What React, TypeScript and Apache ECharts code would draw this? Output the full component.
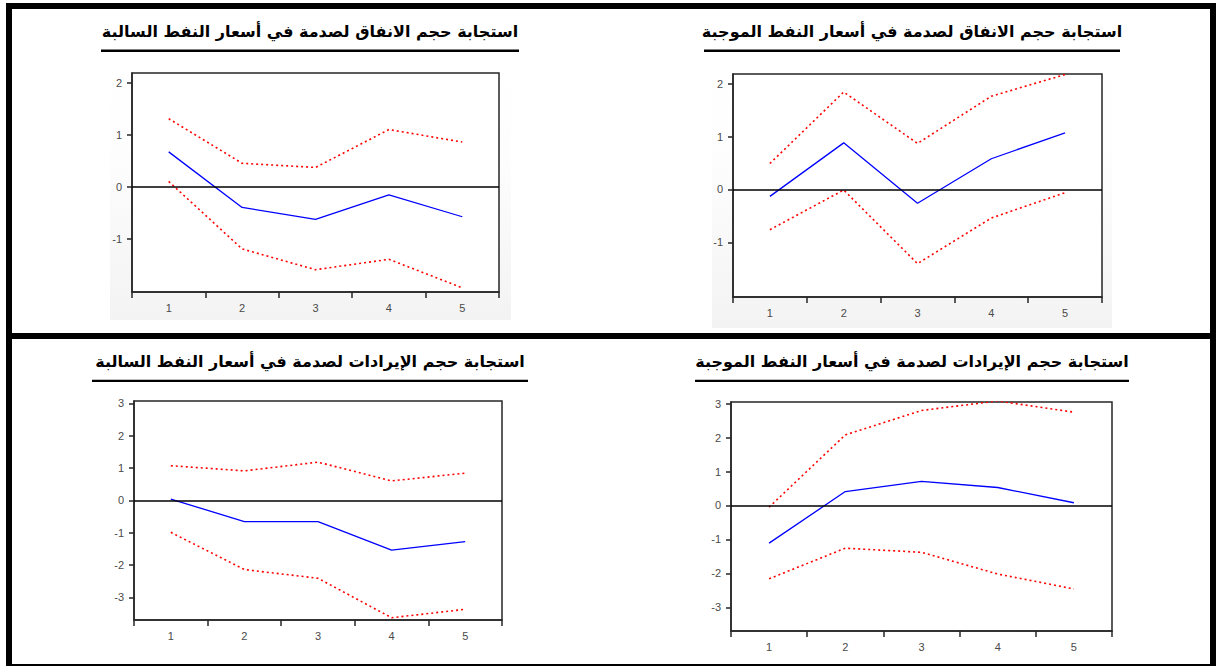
import React, { useEffect, useRef } from 'react';
import * as echarts from 'echarts';

// ---- data ----
const periods = ['1', '2', '3', '4', '5'];

const expNegResp = [0.67, -0.4, -0.63, -0.16, -0.58];
const expNegUpper = [1.31, 0.45, 0.37, 1.1, 0.86];
const expNegLower = [0.1, -1.2, -1.6, -1.4, -1.95];

const expPosResp = [-0.13, 0.88, -0.26, 0.58, 1.07];
const expPosUpper = [0.49, 1.84, 0.87, 1.76, 2.17];
const expPosLower = [-0.76, -0.01, -1.4, -0.54, -0.06];

const revNegResp = [0.04, -0.66, -0.66, -1.54, -1.28];
const revNegUpper = [1.07, 0.91, 1.18, 0.6, 0.84];
const revNegLower = [-0.99, -2.14, -2.41, -3.63, -3.37];

const revPosResp = [-1.11, 0.41, 0.71, 0.53, 0.08];
const revPosUpper = [-0.05, 2.08, 2.8, 3.08, 2.75];
const revPosLower = [-2.16, -1.26, -1.38, -2.02, -2.46];

const ticksExp = [-1, 0, 1, 2];
const ticksRev = [-3, -2, -1, 0, 1, 2, 3];

const titleExpNeg = 'استجابة حجم الانفاق لصدمة في أسعار النفط السالبة';
const titleExpPos = 'استجابة حجم الانفاق لصدمة في أسعار النفط الموجبة';
const titleRevNeg = 'استجابة حجم الإيرادات لصدمة في أسعار النفط السالبة';
const titleRevPos = 'استجابة حجم الإيرادات لصدمة في أسعار النفط الموجبة';

// ---- layout ----
const panels = [
  { grid: { left: 132, top: 73, width: 367, height: 219 }, min: -2.03, max: 2.19, ticks: ticksExp,
    resp: expNegResp, upper: expNegUpper, lower: expNegLower,
    title: titleExpNeg, tx: 310, ty: 31, ul: [101, 519, 49.5], bg: [110, 60, 401, 260] },
  { grid: { left: 733, top: 74, width: 369, height: 223 }, min: -2.03, max: 2.18, ticks: ticksExp,
    resp: expPosResp, upper: expPosUpper, lower: expPosLower,
    title: titleExpPos, tx: 912, ty: 31, ul: [704, 1120, 49.5], bg: [712, 60, 400, 268] },
  { grid: { left: 134, top: 401, width: 368, height: 219 }, min: -3.7, max: 3.07, ticks: ticksRev,
    resp: revNegResp, upper: revNegUpper, lower: revNegLower,
    title: titleRevNeg, tx: 310, ty: 361, ul: [92, 528, 379.7], bg: null },
  { grid: { left: 731, top: 402, width: 381, height: 229 }, min: -3.7, max: 3.05, ticks: ticksRev,
    resp: revPosResp, upper: revPosUpper, lower: revPosLower,
    title: titleRevPos, tx: 912, ty: 361, ul: [695, 1129, 379.7], bg: null },
];

const AXIS_COLOR = '#262626';
const LABEL_COLOR = '#4a4a4a';

export default function App() {
  const ref = useRef<HTMLDivElement>(null);

  useEffect(() => {
    if (!ref.current) return;
    const chart = echarts.init(ref.current, undefined, { renderer: 'svg' });

    const grids: any[] = [];
    const xAxes: any[] = [];
    const yAxes: any[] = [];
    const series: any[] = [];
    const graphics: any[] = [];

    panels.forEach((p, i) => {
      grids.push({
        ...p.grid,
        show: true,
        borderColor: AXIS_COLOR,
        borderWidth: 1.5,
        backgroundColor: 'transparent',
        containLabel: false,
        outerBoundsMode: 'none',
      });
      xAxes.push({
        type: 'category',
        gridIndex: i,
        data: periods,
        boundaryGap: true,
        position: 'bottom',
        axisLine: { show: true, onZero: false, lineStyle: { color: AXIS_COLOR, width: 1.5 } },
        axisTick: { show: true, inside: false, length: 6, alignWithLabel: false, lineStyle: { color: AXIS_COLOR, width: 1.5 } },
        axisLabel: { show: true, margin: 10, color: LABEL_COLOR, fontSize: 11, fontFamily: 'Liberation Sans' },
        splitLine: { show: false },
      });
      yAxes.push({
        type: 'value',
        gridIndex: i,
        min: p.min,
        max: p.max,
        axisLine: { show: true, lineStyle: { color: AXIS_COLOR, width: 1.5 } },
        axisTick: { show: true, inside: false, length: 5, customValues: p.ticks, lineStyle: { color: AXIS_COLOR, width: 1.5 } },
        axisLabel: { show: true, margin: 10, customValues: p.ticks, color: LABEL_COLOR, fontSize: 11, fontFamily: 'Liberation Sans' },
        splitLine: { show: false },
      });
      series.push({
        type: 'line',
        xAxisIndex: i,
        yAxisIndex: i,
        data: p.upper,
        symbol: 'none',
        lineStyle: { color: '#ff0000', width: 1.6, type: [2, 3] },
        z: 3,
      });
      series.push({
        type: 'line',
        xAxisIndex: i,
        yAxisIndex: i,
        data: p.lower,
        symbol: 'none',
        lineStyle: { color: '#ff0000', width: 1.6, type: [2, 3] },
        z: 3,
      });
      series.push({
        type: 'line',
        xAxisIndex: i,
        yAxisIndex: i,
        data: p.resp,
        symbol: 'none',
        lineStyle: { color: '#0000ff', width: 1.3 },
        z: 4,
        markLine: {
          silent: true,
          symbol: ['none', 'none'],
          label: { show: false },
          lineStyle: { color: '#000000', width: 1.5, type: 'solid' },
          data: [{ yAxis: 0 }],
          animation: false,
        },
      });

      // background of the pasted picture (light gradient outside plot area)
      if (p.bg) {
        graphics.push({
          type: 'rect',
          z: -2,
          shape: { x: p.bg[0], y: p.bg[1], width: p.bg[2], height: p.bg[3] },
          style: {
            fill: new echarts.graphic.LinearGradient(0, 0, 0, 1, [
              { offset: 0, color: '#ffffff' },
              { offset: 0.4, color: '#fdfdfd' },
              { offset: 1, color: '#f3f3f3' },
            ]),
          },
          silent: true,
        });
        graphics.push({
          type: 'rect',
          z: -1,
          shape: { x: p.grid.left, y: p.grid.top, width: p.grid.width, height: p.grid.height },
          style: { fill: '#ffffff' },
          silent: true,
        });
      }

      // title
      graphics.push({
        type: 'text',
        z: 10,
        x: p.tx,
        y: p.ty,
        style: {
          text: p.title,
          fill: '#000000',
          font: 'bold 16px "DejaVu Sans"',
          align: 'center',
          verticalAlign: 'middle',
        },
        silent: true,
      });
      graphics.push({
        type: 'rect',
        z: 10,
        shape: { x: p.ul[0], y: p.ul[2], width: p.ul[1] - p.ul[0], height: 2.4 },
        style: { fill: '#000000' },
        silent: true,
      });
    });

    // table borders
    const borders = [
      [6, 3, 1210, 6],    // top
      [6, 3, 6, 663],     // left
      [1210, 3, 6, 663],  // right
      [6, 333, 1210, 6],  // middle horizontal
      [6, 664, 1210, 2],  // bottom
    ];
    borders.forEach((b) => {
      graphics.push({
        type: 'rect',
        z: 20,
        shape: { x: b[0], y: b[1], width: b[2], height: b[3] },
        style: { fill: '#000000' },
        silent: true,
      });
    });

    chart.setOption({
      animation: false,
      backgroundColor: '#ffffff',
      grid: grids,
      xAxis: xAxes,
      yAxis: yAxes,
      series,
      graphic: graphics,
    });

    return () => {
      chart.dispose();
    };
  }, []);

  return (
    <div
      ref={ref}
      style={{ position: 'fixed', left: 0, top: 0, width: 1216, height: 666, background: '#fff' }}
    />
  );
}
